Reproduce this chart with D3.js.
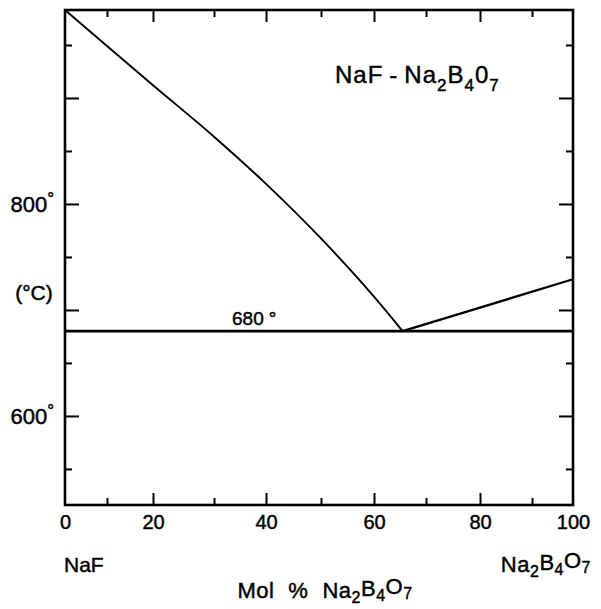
<!DOCTYPE html>
<html>
<head>
<meta charset="utf-8">
<script src="https://cdn.jsdelivr.net/npm/d3@7"></script>
<style>
  html, body { margin: 0; padding: 0; background: #fff; }
  svg { display: block; }
  text { font-family: "Liberation Sans", Arial, sans-serif; fill: #000; stroke: #000; stroke-width: 0.45px; }
</style>
</head>
<body>
<svg id="chart" width="601" height="609"></svg>
<script>
// NaF – Na2B4O7 phase diagram: liquidus branches and eutectic line
const molPct = [0, 10, 20, 30, 40, 50, 60, 65.5];
const liquidusNaF = [983, 949, 912, 863.5, 819, 767.5, 712.5, 680];
const molPctBorax = [65.5, 100];
const liquidusBorax = [680, 729];
const eutecticT = 680;

// composition grid of the drafted axis (every 10 mol %)
const xGrid = [0, 10, 20, 30, 40, 50, 60, 70, 80, 90, 100];
const xLabelTicks = [0, 20, 40, 60, 80, 100];
const xMinorTicks = [10, 30, 50, 70, 90];
const xMajorTicks = [20, 40, 60, 80];
const yMajorTicks = [600, 700, 800, 900];
const yMinorTicks = [550, 650, 750, 850, 950];
const yLabelTicks = [600, 800];

const svg = d3.select("#chart");
const plotL = 65, plotR = 573, plotT = 10, plotB = 505;

// the hand-drafted composition axis is slightly uneven; piecewise-linear scale follows it
const xStops = [plotL, 107, 153, 214, 266, 321, 374, 426, 480, 532, plotR];
const x = d3.scaleLinear().domain(xGrid).range(xStops);
const y = d3.scaleLinear().domain([516, 983]).range([plotB, plotT]);

const g = svg.append("g");

// inward ticks on all four sides
function ticks(axisFn, scale, values, size, transform) {
  g.append("g")
    .attr("transform", transform)
    .call(axisFn(scale).tickValues(values).tickSize(size).tickFormat(""))
    .call(s => s.select(".domain").remove())
    .call(s => s.selectAll(".tick line").attr("stroke", "#000").attr("stroke-width", 2));
}
ticks(d3.axisBottom, x, xMajorTicks, -12, `translate(0,${plotB})`);
ticks(d3.axisBottom, x, xMinorTicks, -7, `translate(0,${plotB})`);
ticks(d3.axisTop, x, xMajorTicks, -12, `translate(0,${plotT})`);
ticks(d3.axisTop, x, xMinorTicks, -7, `translate(0,${plotT})`);
ticks(d3.axisLeft, y, yMajorTicks, -14, `translate(${plotL},0)`);
ticks(d3.axisLeft, y, yMinorTicks, -7, `translate(${plotL},0)`);
ticks(d3.axisRight, y, yMajorTicks, -14, `translate(${plotR},0)`);
ticks(d3.axisRight, y, yMinorTicks, -7, `translate(${plotR},0)`);

// frame
g.append("rect")
  .attr("x", plotL).attr("y", plotT)
  .attr("width", plotR - plotL).attr("height", plotB - plotT)
  .attr("fill", "none").attr("stroke", "#000").attr("stroke-width", 2.6);

// x tick labels
const xAx = g.append("g")
  .attr("transform", `translate(0,${plotB})`)
  .call(d3.axisBottom(x).tickValues(xLabelTicks).tickSize(0).tickPadding(10));
xAx.select(".domain").remove();
xAx.selectAll("text")
  .style("font-family", "'Liberation Sans', Arial, sans-serif")
  .style("font-size", "20px").attr("fill", "#000");

// y tick labels with degree marks
const yAx = g.append("g")
  .attr("transform", `translate(${plotL},0)`)
  .call(d3.axisLeft(y).tickValues(yLabelTicks).tickSize(0).tickPadding(11));
yAx.select(".domain").remove();
yAx.selectAll("text")
  .style("font-family", "'Liberation Sans', Arial, sans-serif")
  .style("font-size", "22px").attr("fill", "#000")
  .attr("dy", "0.36em")
  .text(d => d)
  .append("tspan")
  .attr("dy", "-0.5em")
  .style("font-size", "17px")
  .text("°");

// axis captions
svg.append("text").attr("x", 34).attr("y", 293).attr("dy", "0.35em")
  .attr("text-anchor", "middle").style("font-size", "21px").text("(°C)");

svg.append("text").attr("x", 64).attr("y", 572)
  .style("font-size", "21px").text("NaF");

function formula(sel, parts, big, small) {
  parts.forEach(p => {
    const t = sel.append("tspan").text(p[0]).style("font-size", p[1] === 1 ? small + "px" : big + "px");
    if (p[1] === 1) t.attr("dy", "0.3em");
    if (p[1] === -1) t.attr("dy", "-0.3em");
  });
}
const boraxParts = [["Na", 0], ["2", 1], ["B", -1], ["4", 1], ["O", -1], ["7", 1]];

const rightLbl = svg.append("text").attr("x", 591).attr("y", 572)
  .attr("text-anchor", "end").style("letter-spacing", "0.5px");
formula(rightLbl, boraxParts, 22, 16);

const xTitle = svg.append("text").attr("x", 325).attr("y", 598)
  .attr("text-anchor", "middle").style("letter-spacing", "0.5px");
xTitle.append("tspan").text("Mol").style("font-size", "22px");
xTitle.append("tspan").text("%").attr("dx", 14).style("font-size", "22px");
xTitle.append("tspan").text("Na").attr("dx", 14).style("font-size", "22px");
formula(xTitle, boraxParts.slice(1), 22, 16);

// system name
const title = svg.append("text").attr("x", 335).attr("y", 83).style("letter-spacing", "1px");
title.append("tspan").text("NaF").style("font-size", "24px");
title.append("tspan").text("-").attr("dx", 6).style("font-size", "24px");
title.append("tspan").text("Na").attr("dx", 6).style("font-size", "24px");
title.append("tspan").text("2").attr("dy", 8).style("font-size", "17px");
title.append("tspan").text("B").attr("dy", -8).style("font-size", "24px");
title.append("tspan").text("4").attr("dy", 8).style("font-size", "17px");
title.append("tspan").text("0").attr("dy", -8).style("font-size", "24px");
title.append("tspan").text("7").attr("dy", 8).style("font-size", "17px");

// curves
const line = d3.line().x(d => x(d[0])).y(d => y(d[1])).curve(d3.curveMonotoneX);
g.append("path")
  .datum(d3.zip(molPct, liquidusNaF))
  .attr("d", line).attr("fill", "none").attr("stroke", "#000").attr("stroke-width", 1.9);
g.append("path")
  .datum(d3.zip(molPctBorax, liquidusBorax))
  .attr("d", d3.line().x(d => x(d[0])).y(d => y(d[1])))
  .attr("fill", "none").attr("stroke", "#000").attr("stroke-width", 2.3);

// eutectic
g.append("line")
  .attr("x1", x(0)).attr("x2", x(100))
  .attr("y1", y(eutecticT)).attr("y2", y(eutecticT))
  .attr("stroke", "#000").attr("stroke-width", 2.6);
svg.append("text").attr("x", 232).attr("y", y(eutecticT) - 6)
  .style("font-size", "19px")
  .text(eutecticT)
  .append("tspan").attr("dx", 5).text("°");
</script>
</body>
</html>
